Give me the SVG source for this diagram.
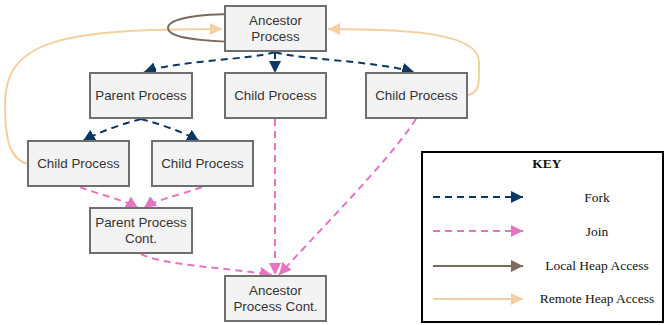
<svg xmlns="http://www.w3.org/2000/svg" width="665" height="325" viewBox="0 0 665 325">
<defs>
<style>
.box{fill:#f3f3f3;stroke:#6f6f6f;stroke-width:2}
.lbl{font-family:"Liberation Sans",Arial,sans-serif;font-size:13.4px;fill:#333;text-anchor:middle}
.fork{fill:none;stroke:#0b3763;stroke-width:2;stroke-dasharray:7,5}
.join{fill:none;stroke:#e574c3;stroke-width:2;stroke-dasharray:7,5}
.local{fill:none;stroke:#7b6a5d;stroke-width:2}
.remote{fill:none;stroke:#f3d0a0;stroke-width:2}
.key{font-family:"Liberation Serif","Times New Roman",serif;font-size:13.5px;fill:#111;text-anchor:middle}
</style>
<marker id="mFork" markerUnits="userSpaceOnUse" markerWidth="12" markerHeight="12" refX="12" refY="6" orient="auto"><path d="M0,0 L12,6 L0,12 z" fill="#0b3763"/></marker>
<marker id="mJoin" markerUnits="userSpaceOnUse" markerWidth="12" markerHeight="12" refX="12" refY="6" orient="auto"><path d="M0,0 L12,6 L0,12 z" fill="#e574c3"/></marker>
<marker id="mLocal" markerUnits="userSpaceOnUse" markerWidth="12" markerHeight="12" refX="12" refY="6" orient="auto"><path d="M0,0 L12,6 L0,12 z" fill="#7b6a5d"/></marker>
<marker id="mRemote" markerUnits="userSpaceOnUse" markerWidth="12" markerHeight="12" refX="12" refY="6" orient="auto"><path d="M0,0 L12,6 L0,12 z" fill="#f3d0a0"/></marker>
</defs>
<rect width="665" height="325" fill="#fff"/>

<g id="connectors">
<path class="remote" d="M28,164 C 12,160 5,145 5,105 C 5,40 60,29 222,29" marker-end="url(#mRemote)"/>
<path class="remote" d="M468,95 C 481,92 479,80 479,62 C 479,35 420,29 328,29" marker-end="url(#mRemote)"/>
<path class="local" d="M237,42 C 200,41 168,38 168,28 C 168,18 200,14 237,14" marker-end="url(#mLocal)"/>
<path class="fork" d="M275,52 C 250,60 180,60 144,72" marker-end="url(#mFork)"/>
<path class="fork" d="M275,52 L275,73" marker-end="url(#mFork)"/>
<path class="fork" d="M275,52 C 300,60 370,60 414,72" marker-end="url(#mFork)"/>
<path class="fork" d="M141,119 C 126,123 100,131 83,141" marker-end="url(#mFork)"/>
<path class="fork" d="M141,119 C 156,123 182,131 199,141" marker-end="url(#mFork)"/>
<path class="join" d="M80,187 C 100,195 125,200 138,208" marker-end="url(#mJoin)"/>
<path class="join" d="M202,187 C 180,195 155,200 144,208" marker-end="url(#mJoin)"/>
<path class="join" d="M141,254 C 160,265 230,268 272,275" marker-end="url(#mJoin)"/>
<path class="join" d="M275,119 L275,275" marker-end="url(#mJoin)"/>
<path class="join" d="M416,119 C 390,160 310,240 279,275" marker-end="url(#mJoin)"/>
</g>

<g id="ancestor"><rect class="box" x="225" y="6" width="101" height="45"/><text class="lbl" x="275.5" y="25">Ancestor</text><text class="lbl" x="275.5" y="41">Process</text></g>
<g id="parent"><rect class="box" x="90" y="73" width="102" height="45"/><text class="lbl" x="141" y="100">Parent Process</text></g>
<g id="child-mid"><rect class="box" x="225" y="73" width="101" height="45"/><text class="lbl" x="275.5" y="100">Child Process</text></g>
<g id="child-right"><rect class="box" x="366" y="73" width="101" height="45"/><text class="lbl" x="416.5" y="100">Child Process</text></g>
<g id="child-left"><rect class="box" x="28" y="141" width="101" height="45"/><text class="lbl" x="78.5" y="168">Child Process</text></g>
<g id="child-second"><rect class="box" x="152" y="141" width="101" height="45"/><text class="lbl" x="202.5" y="168">Child Process</text></g>
<g id="parent-cont"><rect class="box" x="90" y="208" width="102" height="45"/><text class="lbl" x="141" y="227">Parent Process</text><text class="lbl" x="141" y="243">Cont.</text></g>
<g id="ancestor-cont"><rect class="box" x="225" y="276" width="101" height="45"/><text class="lbl" x="275.5" y="295">Ancestor</text><text class="lbl" x="275.5" y="311">Process Cont.</text></g>

<g id="legend">
<rect x="422" y="152" width="241" height="170" fill="#fff" stroke="#000" stroke-width="2"/>
<text class="key" x="547" y="168" font-weight="bold">KEY</text>
<path class="fork" d="M433,197 L523,197" stroke-dasharray="6,4" marker-end="url(#mFork)"/>
<path class="join" d="M433,231 L523,231" stroke-dasharray="6,4" marker-end="url(#mJoin)"/>
<path class="local" d="M433,266 L523,266" marker-end="url(#mLocal)"/>
<path class="remote" d="M433,299 L523,299" marker-end="url(#mRemote)"/>
<text class="key" x="597" y="202">Fork</text>
<text class="key" x="597" y="236">Join</text>
<text class="key" x="597" y="270">Local Heap Access</text>
<text class="key" x="597" y="303">Remote Heap Access</text>
</g>
</svg>
